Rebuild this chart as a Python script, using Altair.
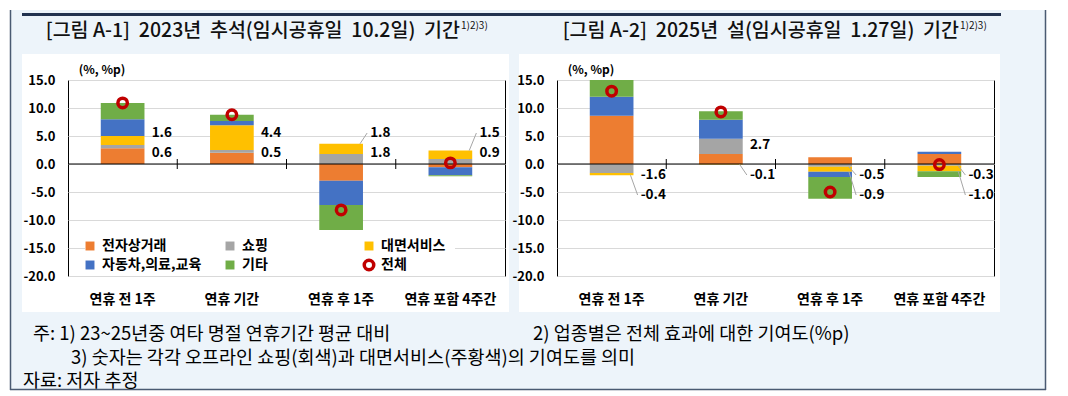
import altair as alt
import pandas as pd

# ---------------- data ----------------
categories = ["연휴 전 1주", "연휴 기간", "연휴 후 1주", "연휴 포함 4주간"]
series = ["전자상거래", "쇼핑", "대면서비스", "자동차,의료,교육", "기타"]
series_colors = ["#ED7D31", "#A5A5A5", "#FFC000", "#4472C4", "#70AD47"]
total_label = "전체"
total_color = "#C00000"

# [그림 A-1] 2023 추석
a1_ecommerce = [2.8, 2.0, -3.0, -0.6]
a1_shopping = [0.6, 0.5, 1.8, 0.9]
a1_inperson = [1.6, 4.4, 1.8, 1.5]
a1_auto = [3.0, 0.8, -4.3, -1.4]
a1_other = [2.9, 1.1, -4.5, -0.2]
a1_total = [10.9, 8.8, -8.2, 0.2]

# [그림 A-2] 2025 설
a2_ecommerce = [8.6, 1.8, 1.2, 1.8]
a2_shopping = [-1.6, 2.7, -0.5, -0.3]
a2_inperson = [-0.4, -0.1, -0.9, -1.0]
a2_auto = [3.4, 3.4, -0.9, 0.4]
a2_other = [3.0, 1.5, -3.9, -1.0]
a2_total = [13.0, 9.3, -5.0, -0.1]

y_ticks = [15, 10, 5, 0, -5, -10, -15, -20]
SP = "\u00a0 "
titles = [f"[그림 A-1]{SP}2023년{SP}추석(임시공휴일{SP}10.2일){SP}기간",
          f"[그림 A-2]{SP}2025년{SP}설(임시공휴일{SP}1.27일){SP}기간"]
title_sup = "1)2)3)"
unit_text = "(%, %p)"
note_1a = "주: 1) 23~25년중 여타 명절 연휴기간 평균 대비"
note_1b = "2) 업종별은 전체 효과에 대한 기여도(%p)"
note_2 = "3) 숫자는 각각 오프라인 쇼핑(회색)과 대면서비스(주황색)의 기여도를 의미"
note_3 = "자료: 저자 추정"

# ---------------- layout constants ----------------
FONT = "Noto Sans CJK KR"
W, H = 437, 196
Y_DOMAIN = [-20, 15]
PPU = H / (Y_DOMAIN[1] - Y_DOMAIN[0])
STEP = W / len(categories)
BAR_HALF = STEP * 0.4 / 2
LABEL_DX = 29
BG = "#EDF4FA"
NAVY = "#22324F"
BORDER = "#4A5A72"

LEFT_ORIGIN = (66, 78)
RIGHT_ORIGIN = (555, 78)


def one():
    return pd.DataFrame({"k": [0]})


def stack_extents(vals):
    ext = {}
    for c in range(len(categories)):
        pos = neg = 0.0
        for s, arr in zip(series, vals):
            v = arr[c]
            if v >= 0:
                ext[(s, c)] = (pos, pos + v)
                pos += v
            else:
                ext[(s, c)] = (neg + v, neg)
                neg += v
    return ext


def place_labels(vals, gap=20.0, clear=11.0):
    """Place gray (쇼핑) and yellow (대면서비스) value labels near their segments."""
    ext = stack_extents(vals)
    rows, leaders = [], []
    for c, cat in enumerate(categories):
        g_lo, g_hi = ext[("쇼핑", c)]
        y_lo, y_hi = ext[("대면서비스", c)]
        gv, yv = vals[1][c], vals[2][c]
        cg = (g_lo + g_hi) / 2 * PPU
        cy = (y_lo + y_hi) / 2 * PPU
        items = [("g", gv, cg, g_lo, g_hi), ("y", yv, cy, y_lo, y_hi)]
        items.sort(key=lambda t: -t[2])
        top, bot = items
        t, b = top[2], bot[2]
        if t - b < gap:
            m = (t + b) / 2
            t, b = m + gap / 2, m - gap / 2
        if top[1] >= 0 and bot[1] >= 0:
            if b < clear:
                sh = clear - b
                t += sh
                b += sh
        elif top[1] < 0 and bot[1] < 0:
            if t > -clear:
                sh = -clear - t
                t += sh
                b += sh
        else:
            t = max(t, clear)
            b = min(b, -clear)
        for it, pos in ((top, t), (bot, b)):
            ly = pos / PPU
            rows.append({"cat": cat, "ly": ly, "txt": f"{it[1]:.1f}"})
            if abs(pos - it[2]) > 9.5:
                edge = it[4] if ly > it[4] else (it[3] if ly < it[3] else ly)
                leaders.append({"cat": cat, "y0": edge, "y1": ly})
    return pd.DataFrame(rows), pd.DataFrame(leaders)


def vtext(txt, x, y, size, weight="normal", align="left", color="black", baseline="middle"):
    return alt.Chart(one()).mark_text(
        font=FONT, fontSize=size, fontWeight=weight, align=align, baseline=baseline, color=color
    ).encode(x=alt.value(x), y=alt.value(y), text=alt.value(txt))


def vrect(x0, x1, y0, y1, color):
    return alt.Chart(one()).mark_rect(color=color, strokeWidth=0).encode(
        x=alt.value(x0), x2=alt.value(x1), y=alt.value(y0), y2=alt.value(y1))


def vrule(x0, x1, y0, y1, color, width):
    return alt.Chart(one()).mark_rule(color=color, strokeWidth=width).encode(
        x=alt.value(x0), x2=alt.value(x1), y=alt.value(y0), y2=alt.value(y1))


X_AXIS = alt.Axis(title=None, labelAngle=0, domain=False, ticks=False, tickSize=0,
                  labelPadding=16, labelFont=FONT, labelFontSize=14, labelFontWeight="bold",
                  labelColor="black", grid=False)
Y_AXIS = alt.Axis(title=None, values=y_ticks, domain=False, ticks=False, tickSize=0,
                  labelPadding=13, labelFont=FONT, labelFontSize=13, labelFontWeight="bold",
                  labelColor="black", grid=True, gridColor="#D9D9D9", gridWidth=1,
                  labelExpr="datum.value < 0 ? '-' + format(-datum.value, '.1f') : format(datum.value, '.1f')")


def panel(vals, totals, title_txt, origin, title_end_page, decorations=None):
    ox, oy = origin

    def rx(px):
        return px - ox

    def ry(py):
        return py - oy

    rows = []
    for si, (s, arr) in enumerate(zip(series, vals)):
        for ci, cat in enumerate(categories):
            rows.append({"cat": cat, "series": s, "ord": si, "value": arr[ci]})
    bars_df = pd.DataFrame(rows)

    xs = alt.Scale(domain=categories, paddingInner=0.6, paddingOuter=0.3)
    ys = alt.Scale(domain=Y_DOMAIN, nice=False, zero=False)

    xe = alt.X("cat:N", sort=categories, scale=xs, axis=X_AXIS)

    def ye(field=None, datum=None):
        if datum is not None:
            return alt.Y(datum=datum, scale=ys, axis=Y_AXIS)
        return alt.Y(field, scale=ys, axis=Y_AXIS)

    layers = list(decorations or [])

    bars = alt.Chart(bars_df).mark_bar(clip=True).encode(
        x=xe,
        y=alt.Y("value:Q", stack="zero", scale=ys, axis=Y_AXIS),
        color=alt.Color("series:N", scale=alt.Scale(domain=series, range=series_colors), legend=None),
        order=alt.Order("ord:Q", sort="ascending"),
    )
    layers.append(bars)

    zero = alt.Chart(one()).mark_rule(color="black", strokeWidth=1).encode(
        y=ye(datum=0), x=alt.value(0), x2=alt.value(W))
    layers.append(zero)

    ticks = alt.Chart(pd.DataFrame({"cat": categories[1:]})).mark_rule(
        color="black", strokeWidth=1, xOffset=-STEP / 2, yOffset=-5, y2Offset=5
    ).encode(x=xe, y=ye(datum=0), y2=alt.Y2(datum=0))
    layers.append(ticks)

    # legend (inside plot area, white box)
    layers.append(vrect(rx(83), rx(453), ry(233), ry(274), "white"))
    leg_cols = [rx(88), rx(228), rx(367)]
    leg_rows = [ry(244), ry(263)]
    names = series + [total_label]
    for i, nm in enumerate(names):
        cx, cy = leg_cols[i % 3], leg_rows[i // 3]
        if i < len(series):
            layers.append(alt.Chart(one()).mark_point(
                shape="square", filled=True, size=80, color=series_colors[i], opacity=1, strokeWidth=0
            ).encode(x=alt.value(cx), y=alt.value(cy)))
        else:
            layers.append(alt.Chart(one()).mark_point(
                shape="circle", filled=False, size=90, stroke=total_color, strokeWidth=3.5, opacity=1
            ).encode(x=alt.value(cx), y=alt.value(cy)))
        layers.append(vtext(nm, cx + 12, cy, 14, weight="bold"))

    # value labels + leader lines
    lab_df, lead_df = place_labels(vals)
    if len(lead_df):
        layers.append(alt.Chart(lead_df).mark_rule(
            color="#A6A6A6", strokeWidth=1, xOffset=BAR_HALF - 3, x2Offset=LABEL_DX - 3
        ).encode(x=xe, x2=alt.X2("cat:N"), y=ye("y0:Q"), y2="y1:Q"))
    layers.append(alt.Chart(lab_df).mark_text(
        font=FONT, fontSize=13.5, fontWeight="bold", align="left", baseline="middle", dx=LABEL_DX, color="black"
    ).encode(x=xe, y=ye("ly:Q"), text="txt:N"))

    # totals
    layers.append(alt.Chart(pd.DataFrame({"cat": categories, "total": totals})).mark_point(
        shape="circle", filled=False, size=90, stroke=total_color, strokeWidth=3.5, opacity=1
    ).encode(x=xe, y=ye("total:Q")))

    # unit label, title
    layers.append(vtext(unit_text, 34, ry(68), 12, weight="bold", align="center"))
    layers.append(vtext(title_txt, rx(title_end_page), ry(29), 19.5, weight=500, align="right", color="#111111"))
    layers.append(vtext(title_sup, rx(title_end_page + 1), ry(24), 10, align="left", color="#111111"))

    return alt.layer(*layers).properties(width=W, height=H)


# global decorations (drawn in the left panel, page coordinates -> left-panel coordinates)
def L(px):
    return px - LEFT_ORIGIN[0]


def T(py):
    return py - LEFT_ORIGIN[1]


deco = [
    vrect(L(8), L(1044), T(8), T(52), BG),
    vrect(L(8), L(20), T(52), T(310), BG),
    vrect(L(507), L(517), T(52), T(310), BG),
    vrect(L(998), L(1044), T(52), T(310), BG),
    vrect(L(8), L(1044), T(310), T(388), BG),
    vrule(L(8.5), L(8.5), T(8), T(388), BORDER, 1.5),
    vrule(L(1043.5), L(1043.5), T(8), T(388), BORDER, 1.5),
    vrule(L(8), L(1044), T(387.5), T(387.5), BORDER, 1.5),
    vrule(L(20), L(999), T(12.5), T(12.5), NAVY, 3),
    vtext(note_1a, L(31), T(332), 18.5),
    vtext(note_1b, L(531), T(332), 18.5),
    vtext(note_2, L(69), T(356), 18.5),
    vtext(note_3, L(21), T(379), 18.5),
]

left = panel([a1_ecommerce, a1_shopping, a1_inperson, a1_auto, a1_other], a1_total,
             titles[0], LEFT_ORIGIN, 458, decorations=deco)
right = panel([a2_ecommerce, a2_shopping, a2_inperson, a2_auto, a2_other], a2_total,
              titles[1], RIGHT_ORIGIN, 957)

chart = alt.hconcat(left, right, spacing=RIGHT_ORIGIN[0] - LEFT_ORIGIN[0] - W, bounds="flush",
                    padding=0, background="white"
                    ).configure_view(stroke="black", strokeWidth=1)

chart.save("out.html", embed_options={"renderer": "svg", "actions": False})
